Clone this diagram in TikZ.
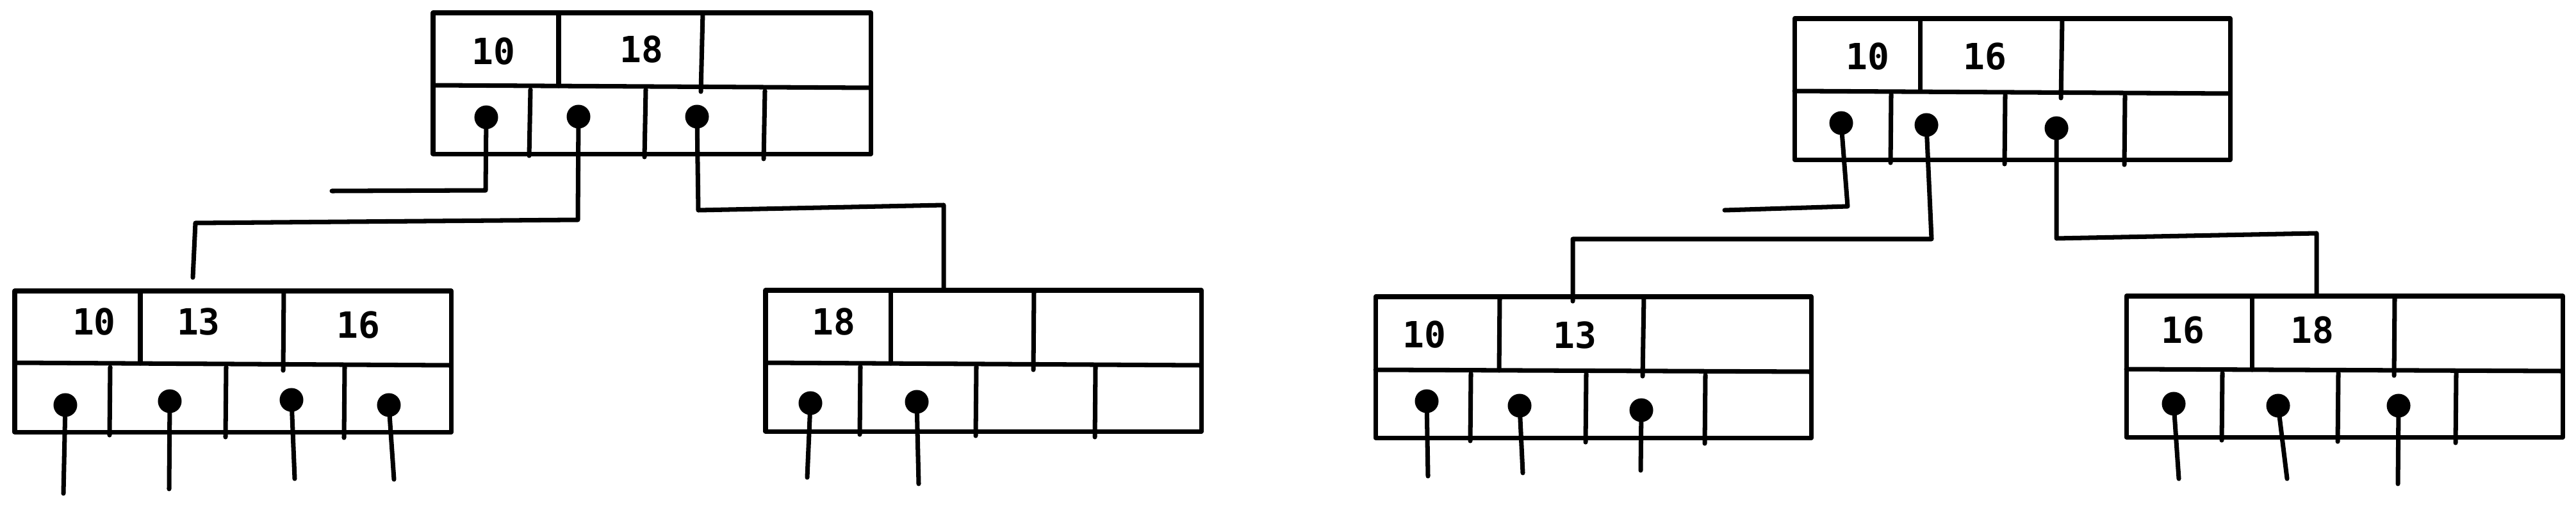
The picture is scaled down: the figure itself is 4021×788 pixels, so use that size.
\documentclass[tikz,border=0pt]{standalone}
\usepackage{fontspec}
\newfontfamily\monof{DejaVu Sans Mono}
\begin{document}
\begin{tikzpicture}[x=0.01cm,y=-0.01cm,
  every path/.style={line width=2pt,line cap=round,line join=round},
  lbl/.style={inner sep=0pt,font=\monof\bfseries\fontsize{16}{19}\selectfont},
  dot/.style={circle,fill=black,draw=none,inner sep=0pt,minimum size=0.37cm},
  box/.style={draw,line width=2pt,inner sep=0pt,outer sep=0pt,minimum width=6.81cm,minimum height=2.2cm,anchor=north west}]
\useasboundingbox (0,0) rectangle (4021,788);
\fill[white] (0,0) rectangle (4021,788);

% ---------- Node A (left top) ----------
\node[box,minimum width=6.83cm] (A) at (676,20) {};
\draw (676,133) -- (1359,137);
\draw (872,20) -- (872,134);
\draw (1097,20) -- (1094,143);
\draw (828,140) -- (826,243);
\draw (1008,140) -- (1006,245);
\draw (1194,142) -- (1192,248);
\node[lbl] (A10) at (770,80) {10};
\node[lbl] (A18) at (1001,77) {18};
\node[dot] (a1) at (759,183) {};
\node[dot] (a2) at (903,182) {};
\node[dot] (a3) at (1088,182) {};

% ---------- Node B (left child) ----------
\node[box] (B) at (23,454) {};
\draw (23,566) -- (704,570);
\draw (219,454) -- (219,567);
\draw (443,454) -- (442,578);
\draw (172,573) -- (171,679);
\draw (353,573) -- (352,682);
\draw (538,573) -- (537,683);
\node[lbl] (B10) at (147,502) {10};
\node[lbl] (B13) at (310,502) {13};
\node[lbl] (B16) at (559,507) {16};
\node[dot] (b1) at (102,632) {};
\node[dot] (b2) at (265,626) {};
\node[dot] (b3) at (455,624) {};
\node[dot] (b4) at (607,632) {};
\coordinate (b1e) at (99,770);
\coordinate (b2e) at (264,763);
\coordinate (b3e) at (460,747);
\coordinate (b4e) at (615,748);
\draw (b1.center) -- (b1e);
\draw (b2.center) -- (b2e);
\draw (b3.center) -- (b3e);
\draw (b4.center) -- (b4e);

% ---------- Node C (right child) ----------
\node[box,minimum width=6.8cm] (C) at (1195,453) {};
\draw (1195,566) -- (1875,570);
\draw (1390,453) -- (1390,567);
\draw (1614,453) -- (1613,577);
\draw (1343,572) -- (1342,678);
\draw (1524,572) -- (1523,680);
\draw (1710,572) -- (1709,682);
\node[lbl] (C18) at (1301,502) {18};
\node[dot] (c1) at (1265,629) {};
\node[dot] (c2) at (1431,627) {};
\coordinate (c1e) at (1260,745);
\coordinate (c2e) at (1434,755);
\draw (c1.center) -- (c1e);
\draw (c2.center) -- (c2e);

% ---------- connectors of A ----------
\coordinate (a1e) at (518,298);
\coordinate (Bin) at (301,433);
\coordinate (Cin) at (1473,453);
\draw (a1.center) -- (758,297) -- (a1e);
\draw (a2.center) -- (902,343) -- (305,348) -- (Bin);
\draw (a3.center) -- (1090,328) -- (1473,320) -- (Cin);

% ---------- Node D (right top) ----------
\node[box,minimum width=6.8cm] (D) at (2801,29) {};
\draw (2801,142) -- (3481,146);
\draw (2997,29) -- (2997,142);
\draw (3219,29) -- (3217,153);
\draw (2952,147) -- (2951,254);
\draw (3130,148) -- (3129,256);
\draw (3317,150) -- (3316,257);
\node[lbl] (D10) at (2915,88) {10};
\node[lbl] (D16) at (3098,88) {16};
\node[dot] (d1) at (2874,192) {};
\node[dot] (d2) at (3007,195) {};
\node[dot] (d3) at (3210,200) {};

% ---------- Node E ----------
\node[box,minimum width=6.8cm] (E) at (2147,463) {};
\draw (2147,577) -- (2827,580);
\draw (2341,463) -- (2340,578);
\draw (2566,463) -- (2564,587);
\draw (2296,583) -- (2295,688);
\draw (2476,583) -- (2475,690);
\draw (2662,585) -- (2661,692);
\node[lbl] (E10) at (2223,522) {10};
\node[lbl] (E13) at (2458,523) {13};
\node[dot] (e1) at (2227,626) {};
\node[dot] (e2) at (2372,633) {};
\node[dot] (e3) at (2562,640) {};
\coordinate (e1e) at (2229,743);
\coordinate (e2e) at (2377,738);
\coordinate (e3e) at (2561,734);
\draw (e1.center) -- (e1e);
\draw (e2.center) -- (e2e);
\draw (e3.center) -- (e3e);

% ---------- Node F ----------
\node[box] (F) at (3319,462) {};
\draw (3319,576) -- (4000,579);
\draw (3515,462) -- (3515,577);
\draw (3738,462) -- (3737,586);
\draw (3469,582) -- (3468,687);
\draw (3650,582) -- (3649,689);
\draw (3834,582) -- (3833,691);
\node[lbl] (F16) at (3407,515) {16};
\node[lbl] (F18) at (3609,515) {18};
\node[dot] (f1) at (3393,630) {};
\node[dot] (f2) at (3556,633) {};
\node[dot] (f3) at (3744,633) {};
\coordinate (f1e) at (3401,747);
\coordinate (f2e) at (3570,747);
\coordinate (f3e) at (3743,755);
\draw (f1.center) -- (f1e);
\draw (f2.center) -- (f2e);
\draw (f3.center) -- (f3e);

% ---------- connectors of D ----------
\coordinate (d1e) at (2692,328);
\coordinate (Ein) at (2455,470);
\coordinate (Fin) at (3616,462);
\draw (d1.center) -- (2884,322) -- (d1e);
\draw (d2.center) -- (3015,373) -- (2455,373) -- (Ein);
\draw (d3.center) -- (3210,372) -- (3616,364) -- (Fin);
\end{tikzpicture}
\end{document}
